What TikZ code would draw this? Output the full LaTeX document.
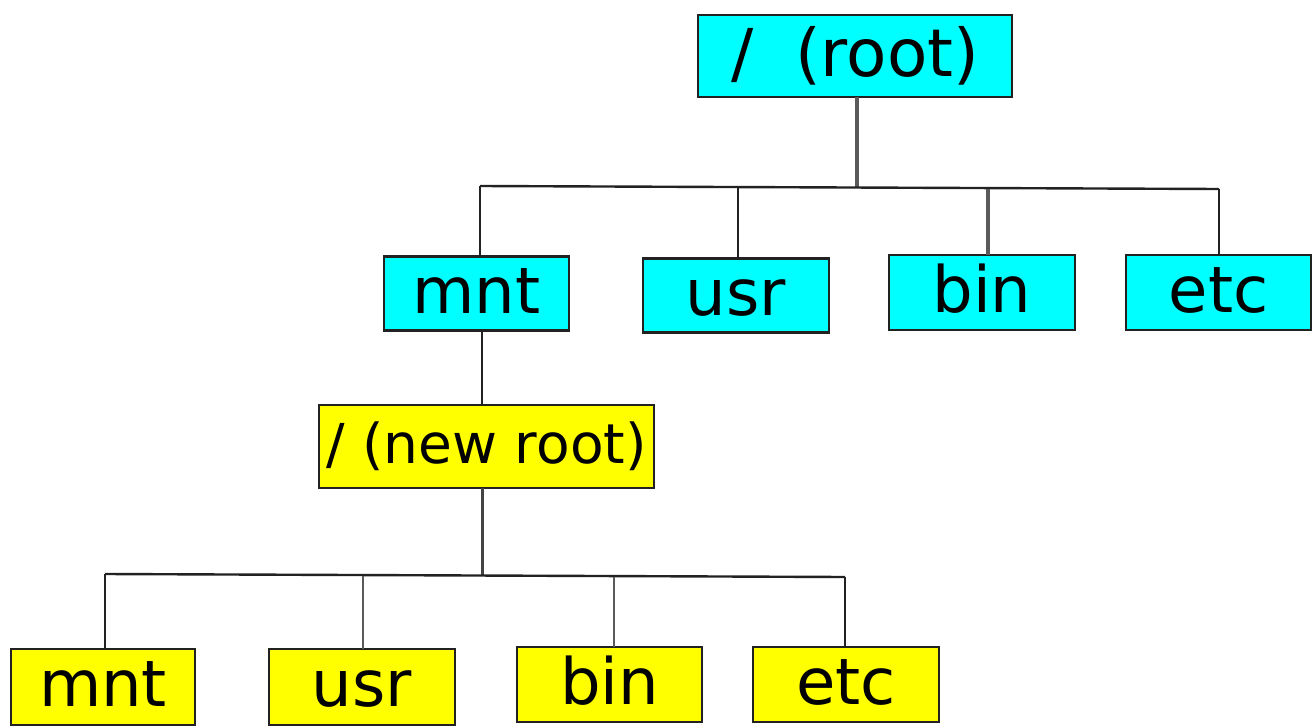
\documentclass[tikz,border=0pt]{standalone}
\usepackage{fontspec}
\setmainfont{DejaVu Sans}
\definecolor{cy}{HTML}{00FFFF}
\definecolor{ye}{HTML}{FFFF00}
\definecolor{ln}{HTML}{222222}
\definecolor{lg}{HTML}{5A5A5A}
\tikzset{
  dirbox/.style={draw=ln, line width=2.4pt, inner sep=0pt, outer sep=0pt,
    text height=48pt, text depth=9pt, font=\fontsize{64}{70}\selectfont},
  oldbox/.style={dirbox, fill=cy},
  newbox/.style={dirbox, fill=ye},
  conn/.style={draw=ln, line width=2.4pt},
  thickconn/.style={draw=lg, line width=4pt},
}
\begin{document}
\begin{tikzpicture}[x=1pt,y=-1pt]
\useasboundingbox (0,0) rectangle (1312,728);
% old tree
\node[oldbox, minimum width=314pt, minimum height=82pt, text height=49.5pt, text depth=9.2pt, font=\fontsize{66}{72}\selectfont] (root) at (855,56) {/\ \ (root)};
\node[oldbox, minimum width=185pt, minimum height=74pt] (mnt) at (476.5,293.5) {mnt};
\node[oldbox, minimum width=186pt, minimum height=74pt] (usr) at (736,295.5) {usr};
\node[oldbox, minimum width=186pt, minimum height=75pt] (bin) at (982,292.5) {bin};
\node[oldbox, minimum width=185pt, minimum height=75pt] (etc) at (1218.5,292.5) {etc};
% new tree
\node[newbox, minimum width=335pt, minimum height=83pt, text height=41pt, text depth=8pt, font=\fontsize{55}{60}\selectfont] (nroot) at (486.5,446.5) {/ (new root)};
\node[newbox, minimum width=184pt, minimum height=76pt] (mnt2) at (103,687) {mnt};
\node[newbox, minimum width=186pt, minimum height=76pt] (usr2) at (362,687) {usr};
\node[newbox, minimum width=185pt, minimum height=75pt] (bin2) at (609.5,684.5) {bin};
\node[newbox, minimum width=186pt, minimum height=75pt] (etc2) at (846,684.5) {etc};
% top bar
\coordinate (tl) at (480,186);
\coordinate (tr) at (1219,189);
\coordinate (tj) at (857,188);
\coordinate (vusr) at (738,188);
\coordinate (vbin) at (988,189);
\coordinate (vmnt) at (482,0);
\draw[thickconn] (tj |- root.south) -- (tj);
\draw[conn] (tl) -- (tr);
\draw[conn] (tl) -- (tl |- mnt.north);
\draw[conn] (vusr) -- (vusr |- usr.north);
\draw[thickconn] (vbin) -- (vbin |- bin.north);
\draw[conn] (tr) -- (tr |- etc.north);
\draw[conn] (vmnt |- mnt.south) -- (vmnt |- nroot.north);
% bottom bar
\coordinate (bl) at (105,574);
\coordinate (br) at (845,577);
\coordinate (bj) at (482,576);
\coordinate (vusr2) at (363,576);
\coordinate (vbin2) at (614,577);
\draw[conn, line width=3pt, draw=ln!85!white] (bj |- nroot.south) -- (bj);
\draw[conn] (bl) -- (br);
\draw[conn] (bl) -- (bl |- mnt2.north);
\draw[conn, draw=lg] (vusr2) -- (vusr2 |- usr2.north);
\draw[conn, draw=lg] (vbin2) -- (vbin2 |- bin2.north);
\draw[conn] (br) -- (br |- etc2.north);
\end{tikzpicture}
\end{document}
